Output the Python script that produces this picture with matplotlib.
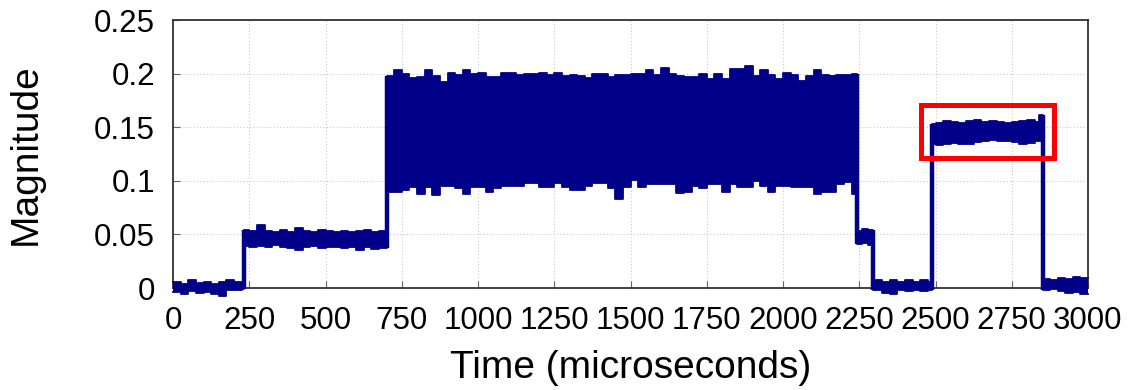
import matplotlib
matplotlib.use("Agg")
import matplotlib.pyplot as plt
from matplotlib.patches import Rectangle
import numpy as np

# ---- data: envelope of the measured magnitude (value holds from each time to the next) ----
times = [0, 25, 50, 75, 100, 125, 150, 175, 200, 225,
         232, 250, 275, 300, 325, 350, 375, 400, 425, 450, 475, 500, 525, 550, 575, 600, 625, 650, 675,
         702, 725, 750, 775, 800, 825, 850, 875, 900, 925, 950, 975, 1000, 1025, 1050, 1075, 1100,
         1125, 1150, 1175, 1200, 1225, 1250, 1275, 1300, 1325, 1350, 1375, 1400, 1425, 1450, 1475,
         1500, 1525, 1550, 1575, 1600, 1625, 1650, 1675, 1700, 1725, 1750, 1775, 1800, 1825, 1850,
         1875, 1900, 1925, 1950, 1975, 2000, 2025, 2050, 2075, 2100, 2125, 2150, 2175, 2200, 2225,
         2243, 2260, 2280,
         2296, 2325, 2350, 2375, 2400, 2425, 2450, 2475,
         2489, 2500, 2525, 2550, 2575, 2600, 2625, 2650, 2675, 2700, 2725, 2750, 2775, 2800, 2825, 2840,
         2852, 2875, 2900, 2925, 2950, 2975, 3000]

upper = [0.006, 0.004, 0.007, 0.005, 0.006, 0.004, 0.006, 0.007, 0.006, 0.005,
         0.054, 0.053, 0.059, 0.053, 0.052, 0.054, 0.052, 0.056, 0.053, 0.052, 0.054, 0.053, 0.052, 0.053, 0.052, 0.053, 0.054, 0.052, 0.053,
         0.198, 0.203, 0.200, 0.196, 0.197, 0.203, 0.198, 0.192, 0.201, 0.199, 0.203, 0.200, 0.201, 0.197, 0.197, 0.201, 0.201,
         0.199, 0.200, 0.200, 0.201, 0.199, 0.201, 0.198, 0.199, 0.198, 0.196, 0.200, 0.200, 0.197, 0.199, 0.199,
         0.200, 0.200, 0.2035, 0.199, 0.2055, 0.200, 0.198, 0.197, 0.197, 0.200, 0.195, 0.200, 0.195, 0.204, 0.204,
         0.207, 0.198, 0.203, 0.199, 0.195, 0.201, 0.199, 0.193, 0.198, 0.203, 0.199, 0.198, 0.199, 0.199, 0.200,
         0.053, 0.055, 0.054,
         0.007, 0.006, 0.007, 0.006, 0.007, 0.006, 0.007, 0.006,
         0.153, 0.154, 0.156, 0.155, 0.154, 0.156, 0.157, 0.155, 0.156, 0.155, 0.154, 0.155, 0.156, 0.157, 0.155, 0.161,
         0.008, 0.007, 0.009, 0.008, 0.010, 0.009, 0.009]

lower = [-0.004, -0.006, -0.003, -0.005, -0.004, -0.006, -0.007, -0.002, -0.002, -0.001,
         0.039, 0.038, 0.039, 0.038, 0.040, 0.038, 0.037, 0.035, 0.038, 0.039, 0.037, 0.038, 0.038, 0.037, 0.038, 0.035, 0.038, 0.036, 0.037,
         0.090, 0.0895, 0.091, 0.094, 0.088, 0.094, 0.087, 0.095, 0.095, 0.093, 0.088, 0.094, 0.094, 0.090, 0.093, 0.095, 0.095,
         0.095, 0.098, 0.098, 0.094, 0.094, 0.098, 0.094, 0.091, 0.091, 0.095, 0.098, 0.098, 0.093, 0.083, 0.094,
         0.101, 0.094, 0.097, 0.097, 0.097, 0.097, 0.089, 0.090, 0.095, 0.093, 0.097, 0.097, 0.090, 0.097, 0.094,
         0.094, 0.100, 0.095, 0.090, 0.095, 0.095, 0.094, 0.094, 0.094, 0.088, 0.090, 0.090, 0.097, 0.099, 0.088,
         0.041, 0.042, 0.040,
         -0.002, -0.005, -0.006, -0.002, -0.003, -0.002, -0.003, -0.002,
         0.134, 0.133, 0.134, 0.135, 0.134, 0.134, 0.136, 0.137, 0.138, 0.137, 0.137, 0.136, 0.134, 0.135, 0.137, 0.137,
         -0.002, -0.001, -0.003, -0.005, -0.004, -0.006, -0.006]

x_ticks = [0, 250, 500, 750, 1000, 1250, 1500, 1750, 2000, 2250, 2500, 2750, 3000]
x_tick_labels = ["0", "250", "500", "750", "1000", "1250", "1500", "1750", "2000", "2250", "2500", "2750", "3000"]
y_ticks = [0, 0.05, 0.1, 0.15, 0.2, 0.25]
y_tick_labels = ["0", "0.05", "0.1", "0.15", "0.2", "0.25"]

highlight_x = [2454, 2890]
highlight_y = [0.1213, 0.1705]

# ---- plot ----
plt.rcParams['font.family'] = ['Liberation Sans', 'DejaVu Sans']
fig = plt.figure(figsize=(11.3, 3.9), dpi=100)
ax = fig.add_axes([173 / 1130, 1 - 288 / 390, (1088 - 173) / 1130, (288 - 20) / 390])

navy = '#000088'
t = np.array(times, dtype=float)
up = np.array(upper)
lo = np.array(lower)
ax.fill_between(t, lo, up, step='post', color=navy, linewidth=0, zorder=3, clip_on=False)
ax.step(t, up, where='post', color=navy, lw=1.3, zorder=3, clip_on=False)
ax.step(t, lo, where='post', color=navy, lw=1.3, zorder=3, clip_on=False)

# thick vertical edges where the level jumps between segments
jump = np.abs(np.diff(up)) > 0.02
for i in np.where(jump)[0]:
    tj = t[i + 1]
    y0 = min(lo[i], lo[i + 1])
    y1 = max(up[i], up[i + 1])
    ax.plot([tj, tj], [y0, y1], color=navy, lw=3.2, zorder=3, clip_on=False,
            solid_capstyle='butt')

ax.add_patch(Rectangle((highlight_x[0], highlight_y[0]), highlight_x[1] - highlight_x[0],
                       highlight_y[1] - highlight_y[0], fill=False, edgecolor='#ff0000',
                       linewidth=3.6, zorder=4))

ax.set_xlim(0, 3000)
ax.set_ylim(0, 0.25)
ax.set_xticks(x_ticks)
ax.set_xticklabels(x_tick_labels)
ax.set_yticks(y_ticks)
ax.set_yticklabels(y_tick_labels)
ax.tick_params(axis='both', direction='in', length=5, width=0.8, color='#666666',
               labelsize=22.5, top=False, right=False)
ax.tick_params(axis='x', pad=13)
ax.tick_params(axis='y', pad=13)
ax.grid(True, linestyle=(0, (1, 2)), color='#c8c8c8', linewidth=0.8, zorder=0)
ax.set_axisbelow(True)
for s in ax.spines.values():
    s.set_color('#333333')
    s.set_linewidth(1.3)

ax.set_xlabel('Time (microseconds)', fontsize=28, labelpad=10)
ax.set_ylabel('Magnitude', fontsize=28, labelpad=36)

fig.savefig('out.png', dpi=100)
